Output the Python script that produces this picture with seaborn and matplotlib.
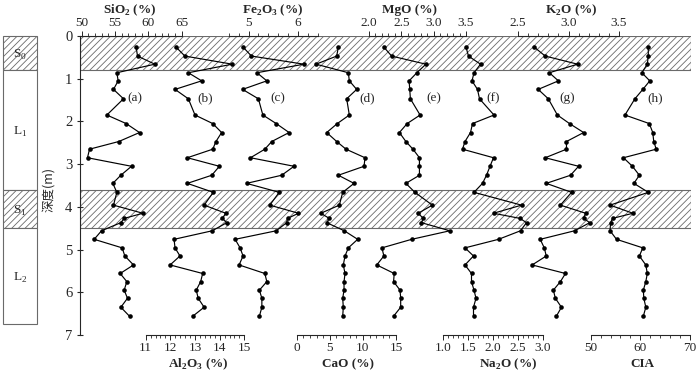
import numpy as np
import matplotlib
matplotlib.use('Agg')
import matplotlib.pyplot as plt
from matplotlib.patches import Rectangle
import seaborn as sns

# sample depths (m)
depth = [0.26, 0.47, 0.66, 0.86, 1.05, 1.25, 1.47, 1.85, 2.05, 2.26, 2.47, 2.65, 2.85, 3.05, 3.26, 3.45,
         3.66, 3.96, 4.15, 4.27, 4.37, 4.56, 4.76, 4.96, 5.15, 5.36, 5.56, 5.75, 5.95, 6.14, 6.35, 6.56]

sio2 = [58.2, 58.4, 61.0, 55.3, 55.5, 54.8, 56.3, 53.8, 56.7, 58.7, 55.6, 51.2, 50.9, 57.5, 55.9, 54.7,
        55.3, 54.8, 59.2, 56.4, 55.9, 53.0, 51.9, 56.1, 56.5, 57.8, 55.8, 56.8, 56.4, 56.9, 55.9, 57.2]
al2o3 = [12.23, 12.59, 14.51, 12.73, 13.27, 12.19, 12.73, 13.0, 13.72, 14.08, 13.85, 13.72, 12.69, 13.99, 13.68, 12.69,
         13.74, 13.37, 14.25, 14.11, 14.29, 13.70, 12.15, 12.19, 12.39, 11.99, 13.31, 13.23, 13.05, 13.13, 13.37, 12.91]
fe2o3 = [4.89, 5.06, 6.12, 5.17, 5.37, 4.88, 5.20, 5.29, 5.56, 5.82, 5.47, 5.33, 5.04, 5.92, 5.67, 4.96,
         5.62, 5.43, 6.01, 5.79, 5.77, 5.56, 4.73, 4.83, 4.89, 4.81, 5.33, 5.37, 5.22, 5.27, 5.27, 5.22]
cao = [6.29, 6.04, 2.92, 7.8, 7.95, 9.06, 7.55, 7.95, 6.13, 4.53, 6.04, 7.45, 10.32, 10.17, 6.29, 8.66,
       6.95, 6.44, 3.63, 4.93, 4.53, 7.19, 9.21, 7.8, 7.3, 7.04, 7.3, 7.15, 7.15, 6.95, 7.04, 6.95]
mgo = [2.23, 2.35, 2.88, 2.74, 2.62, 2.63, 2.64, 2.79, 2.59, 2.47, 2.57, 2.68, 2.78, 2.78, 2.78, 2.57,
       2.71, 2.98, 2.76, 2.84, 2.81, 3.25, 2.66, 2.20, 2.23, 2.12, 2.39, 2.38, 2.48, 2.49, 2.49, 2.38]
na2o = [1.46, 1.51, 1.75, 1.62, 1.58, 1.69, 1.73, 2.02, 1.59, 1.55, 1.44, 1.39, 2.01, 1.94, 1.87, 1.79,
        1.62, 2.57, 2.01, 2.54, 2.67, 2.55, 2.11, 1.44, 1.61, 1.44, 1.57, 1.57, 1.62, 1.66, 1.61, 1.61]
k2o = [2.66, 2.77, 3.09, 2.81, 2.90, 2.70, 2.80, 2.89, 3.01, 3.15, 2.98, 2.98, 2.77, 3.10, 3.02, 2.78,
       3.03, 2.92, 3.17, 3.15, 3.21, 3.06, 2.72, 2.76, 2.78, 2.64, 2.97, 2.92, 2.85, 2.87, 2.93, 2.88]
cia = [61.6, 61.6, 61.4, 60.3, 61.9, 60.5, 58.9, 56.9, 61.8, 62.5, 62.7, 63.2, 56.6, 58.4, 59.8, 58.7,
       61.6, 53.9, 58.5, 54.4, 54.0, 53.9, 55.2, 60.5, 59.8, 61.1, 61.4, 61.1, 60.6, 60.7, 61.1, 60.6]

# stratigraphy
layer_names = ['S$_\\mathregular{0}$', 'L$_\\mathregular{1}$', 'S$_\\mathregular{1}$', 'L$_\\mathregular{2}$']
layer_top = [0.0, 0.8, 3.6, 4.5]
layer_bot = [0.8, 3.6, 4.5, 6.75]
layer_soil = [True, False, True, False]

sns.set_style('ticks')
plt.rcParams['font.family'] = ['Liberation Serif', 'Noto Sans CJK SC']
plt.rcParams['mathtext.fontset'] = 'custom'
plt.rcParams['mathtext.rm'] = 'Liberation Serif'
plt.rcParams['mathtext.bf'] = 'Liberation Serif:bold'
plt.rcParams['hatch.linewidth'] = 0.6

W, H = 700, 374


def rect(x0, y0, x1, y1):
    return [x0 / W, 1 - y1 / H, (x1 - x0) / W, (y1 - y0) / H]


fig = plt.figure(figsize=(7, 3.74), dpi=100)
X0, X1, Y0, Y1 = 80, 691, 36, 335
HATCH = '#6a6a6a'

# base axes: depth axis + soil bands
base = fig.add_axes(rect(X0, Y0, X1, Y1))
base.set_xlim(0, 1)
base.set_ylim(7, 0)
for s in ['top', 'right', 'bottom']:
    base.spines[s].set_visible(False)
base.spines['left'].set_linewidth(0.8)
base.set_xticks([])
base.set_yticks(range(8))
base.tick_params(axis='y', direction='inout', length=5, width=0.8, labelsize=10.5, pad=3)
for t, b, soil in zip(layer_top, layer_bot, layer_soil):
    if soil:
        base.axhspan(t, b, facecolor='white', edgecolor=HATCH, hatch='/////', lw=0.8, zorder=0)

fig.text(50 / W, 1 - 190 / H, '深度(m)', rotation=90, ha='center', va='center', fontsize=9,
         family=['Noto Sans CJK SC', 'DejaVu Sans'])

# stratigraphic column
col = fig.add_axes(rect(3, Y0, 37, Y1))
col.set_xlim(0, 1)
col.set_ylim(7, 0)
col.axis('off')
for name, t, b, soil in zip(layer_names, layer_top, layer_bot, layer_soil):
    col.add_patch(Rectangle((0, t), 1, b - t, facecolor='white', edgecolor=HATCH, lw=0.8,
                            hatch='/////' if soil else None, clip_on=False))
    col.text(0.5, (t + b) / 2 + 0.05, name, ha='center', va='center', fontsize=9.5)

# panels: data, label, side, (v1, px1, v2, px2), axis range, major ticks, minor step, fmt, title x, letter x
panels = [
    (sio2, 'SiO$_\\mathbf{2}$ (%)', 'top', (50, 81.5, 65, 181.5), (50, 65), [50, 55, 60, 65], 1, '{:.0f}', 130, 135, '(a)'),
    (al2o3, 'Al$_\\mathbf{2}$O$_\\mathbf{3}$ (%)', 'bottom', (11, 145.7, 15, 244.3), (11, 15), [11, 12, 13, 14, 15], 0.2, '{:.0f}', 198, 205, '(b)'),
    (fe2o3, 'Fe$_\\mathbf{2}$O$_\\mathbf{3}$ (%)', 'top', (5, 248.5, 6, 298), (4.6, 6.4), [5, 6], 0.2, '{:.0f}', 273, 278, '(c)'),
    (cao, 'CaO (%)', 'bottom', (0, 296.7, 15, 396), (0, 15), [0, 5, 10, 15], 1, '{:.0f}', 348, 367, '(d)'),
    (mgo, 'MgO (%)', 'top', (2.0, 369, 3.5, 466), (2.0, 3.5), [2.0, 2.5, 3.0, 3.5], 0.1, '{:.1f}', 409, 434, '(e)'),
    (na2o, 'Na$_\\mathbf{2}$O (%)', 'bottom', (1.0, 443, 3.0, 543), (1.0, 3.0), [1.0, 1.5, 2.0, 2.5, 3.0], 0.1, '{:.1f}', 508, 493, '(f)'),
    (k2o, 'K$_\\mathbf{2}$O (%)', 'top', (2.5, 518, 3.5, 619), (2.5, 3.5), [2.5, 3.0, 3.5], 0.1, '{:.1f}', 571, 567, '(g)'),
    (cia, 'CIA', 'bottom', (50, 590.7, 70, 690), (50, 70), [50, 60, 70], 2, '{:.0f}', 642, 655, '(h)'),
]

for vals, title, side, cal, rng, major, step, fmt, tx, lx, letter in panels:
    v1, p1, v2, p2 = cal
    k = (v2 - v1) / (p2 - p1)
    pax = fig.add_axes(rect(X0, Y0, X1, Y1))
    pax.patch.set_visible(False)
    sns.lineplot(x=vals, y=depth, ax=pax, sort=False, estimator=None, color='black', lw=0.85,
                 marker='o', markersize=3.3, markeredgecolor='black', markeredgewidth=0)
    pax.set_xlim(v1 + (X0 - p1) * k, v1 + (X1 - p1) * k)
    pax.set_ylim(7, 0)
    for s in ['top', 'bottom', 'left', 'right']:
        pax.spines[s].set_visible(s == side)
    pax.spines[side].set_bounds(*rng)
    pax.spines[side].set_linewidth(0.8)
    pax.xaxis.set_ticks_position(side)
    pax.set_xticks(major)
    pax.set_xticklabels([fmt.format(m) for m in major])
    pax.set_xticks(np.arange(rng[0], rng[1] + step / 2, step), minor=True)
    pax.tick_params(axis='x', which='major', direction='out', length=3.5, width=0.7, pad=1.5, labelsize=9.5)
    pax.tick_params(axis='x', which='minor', direction='out', length=2, width=0.6)
    pax.set_yticks([])
    pax.set_xlabel('')
    pax.set_ylabel('')
    ty = 10 if side == 'top' else 364
    fig.text(tx / W, 1 - ty / H, title, ha='center', va='center', fontsize=9.5, fontweight='bold')
    base.text((lx - X0) / (X1 - X0), 1.45, letter, ha='center', va='center', fontsize=9.5)

fig.savefig('out.png', dpi=100)
